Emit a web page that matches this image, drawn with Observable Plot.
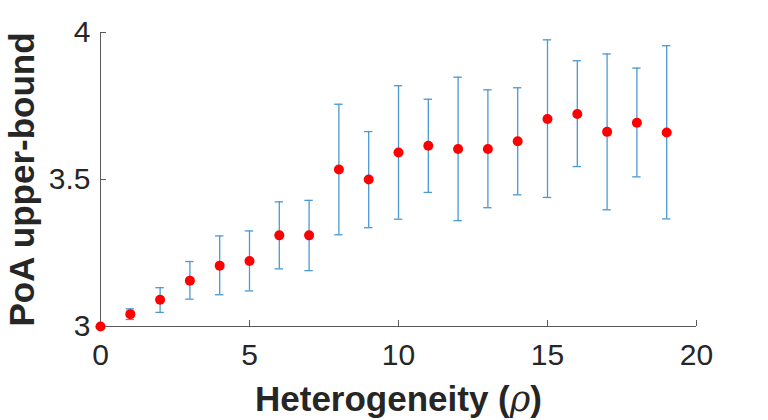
<!DOCTYPE html>
<html>
<head>
<meta charset="utf-8">
<script src="https://cdn.jsdelivr.net/npm/d3@7"></script>
<script src="https://cdn.jsdelivr.net/npm/@observablehq/plot@0.6"></script>
<style>
  html, body { margin: 0; padding: 0; background: #fff; }
</style>
</head>
<body>
<div id="chart"></div>
<script>
const rho   = [0, 1, 2, 3, 4, 5, 6, 7, 8, 9, 10, 11, 12, 13, 14, 15, 16, 17, 18, 19];
const mean  = [3.000, 3.042, 3.091, 3.156, 3.207, 3.223, 3.310, 3.310, 3.534, 3.500, 3.592, 3.615, 3.604, 3.604, 3.630, 3.706, 3.723, 3.662, 3.693, 3.660];
const upper = [3.000, 3.060, 3.132, 3.221, 3.308, 3.325, 3.424, 3.429, 3.756, 3.663, 3.819, 3.773, 3.848, 3.805, 3.812, 3.975, 3.904, 3.927, 3.879, 3.955];
const lower = [3.000, 3.024, 3.048, 3.093, 3.108, 3.121, 3.196, 3.190, 3.312, 3.336, 3.365, 3.456, 3.360, 3.404, 3.448, 3.439, 3.544, 3.397, 3.509, 3.366];
const xTicks = [0, 5, 10, 15, 20];
const yTicks = [3, 3.5, 4];
const xDomain = [0, 20];
const yDomain = [3, 4];
const xLabel = "Heterogeneity (ρ)";
const yLabel = "PoA upper-bound";

const data = rho.map((x, i) => ({x, y: mean[i], lo: lower[i], hi: upper[i]}));

const W = 768, H = 420;
const mL = 100, mR = 72, mT = 32, mB = 94;
const innerH = H - mT - mB;
const innerW = W - mL - mR;
const tickLen = 6;
const yTickFrac = (yDomain[1] - yDomain[0]) * tickLen / innerH;
const xTickFrac = (xDomain[1] - xDomain[0]) * tickLen / innerW;
const capHalf = (xDomain[1] - xDomain[0]) * 4.2 / innerW;

const axisColor = "#5a5a5a";
const barColor = "#4b98d2";

const plot = Plot.plot({
  width: W, height: H,
  marginLeft: mL, marginRight: mR, marginTop: mT, marginBottom: mB,
  style: {fontFamily: "'Liberation Sans', Arial, Helvetica, sans-serif", background: "#fff", color: "#262626"},
  x: {domain: xDomain},
  y: {domain: yDomain},
  marks: [
    Plot.axisX(xTicks, {tickSize: 0, tickPadding: 17, fontSize: 30, label: null, tickFormat: d => String(d), fill: "#262626"}),
    Plot.axisY(yTicks, {tickSize: 0, tickPadding: 10, fontSize: 30, label: null, tickFormat: d => String(d), fill: "#262626"}),
    Plot.ruleY([yDomain[0]], {stroke: axisColor, strokeWidth: 1}),
    Plot.ruleX([xDomain[0]], {stroke: axisColor, strokeWidth: 1}),
    Plot.ruleX(xTicks, {x: d => d, y1: yDomain[0], y2: yDomain[0] + yTickFrac, stroke: axisColor, strokeWidth: 1}),
    Plot.ruleY(yTicks, {y: d => d, x1: xDomain[0], x2: xDomain[0] + xTickFrac, stroke: axisColor, strokeWidth: 1}),
    Plot.ruleX(data, {x: "x", y1: "lo", y2: "hi", stroke: barColor, strokeWidth: 1.3}),
    Plot.ruleY(data, {y: "hi", x1: d => d.x - capHalf, x2: d => d.x + capHalf, stroke: barColor, strokeWidth: 1.3}),
    Plot.ruleY(data, {y: "lo", x1: d => d.x - capHalf, x2: d => d.x + capHalf, stroke: barColor, strokeWidth: 1.3}),
    Plot.dot(data, {x: "x", y: "y", r: 5, fill: "#ff0000", stroke: "none"}),
    Plot.text([xLabel], {text: d => d, frameAnchor: "bottom", textAnchor: "middle", lineAnchor: "top", dy: 60, fontSize: 35, fontWeight: "bold", fill: "#262626"}),
    Plot.text([yLabel], {text: d => d, frameAnchor: "left", textAnchor: "middle", lineAnchor: "middle", dx: -78, rotate: -90, fontSize: 35, fontWeight: "bold", fill: "#262626"})
  ]
});

// italic rho in x label
plot.querySelectorAll("text").forEach(t => {
  if (t.textContent === xLabel) {
    const parts = xLabel.split("ρ");
    t.textContent = "";
    const ns = "http://www.w3.org/2000/svg";
    const a = document.createElementNS(ns, "tspan"); a.textContent = parts[0];
    const b = document.createElementNS(ns, "tspan"); b.textContent = "ρ";
    b.setAttribute("font-style", "italic"); b.setAttribute("font-weight", "normal");
    b.setAttribute("font-family", "'DejaVu Serif', 'Liberation Serif', serif");
    const c = document.createElementNS(ns, "tspan"); c.textContent = parts[1];
    t.append(a, b, c);
  }
});

document.getElementById("chart").append(plot);
</script>
</body>
</html>
